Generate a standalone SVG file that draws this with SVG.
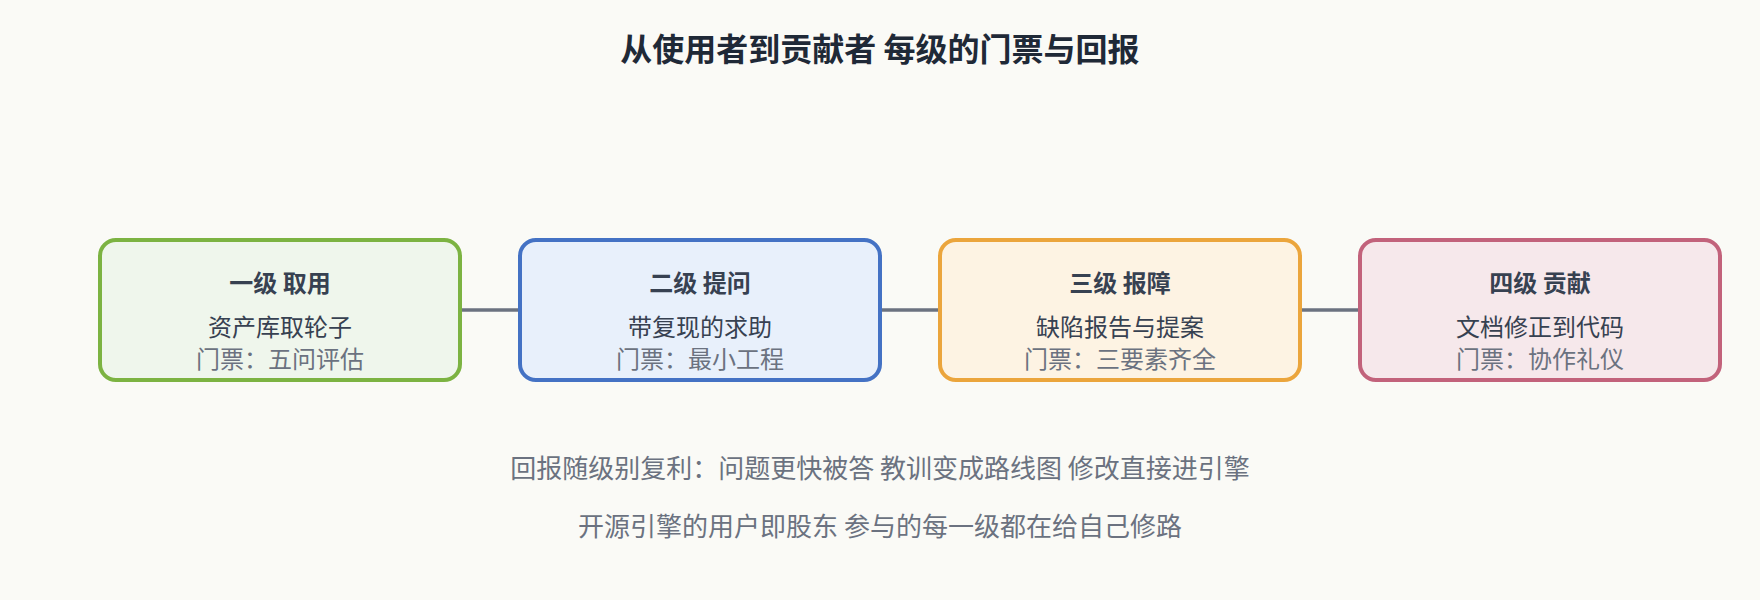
<svg xmlns="http://www.w3.org/2000/svg" width="1760" height="600" viewBox="0 0 1760 600">
<style>
text{font-family:"Noto Sans CJK SC","Noto Sans",sans-serif;text-anchor:middle}
.title{font-size:32px;font-weight:700;fill:#1f2937}
.nt{font-size:24px;font-weight:700;fill:#374151}
.nl{font-size:24px;fill:#374151}
.ng{font-size:24px;fill:#6b7280}
.ft{font-size:26px;fill:#6b7280}
.box{stroke-width:4}
.conn{stroke:#6b7280;stroke-width:3.5;fill:none}
</style>
<rect width="1760" height="600" fill="#fafaf6"/>
<text class="title" x="880" y="61">从使用者到贡献者 每级的门票与回报</text>
<g id="connectors">
<line class="conn" x1="462" y1="310" x2="518" y2="310"/>
<line class="conn" x1="882" y1="310" x2="938" y2="310"/>
<line class="conn" x1="1302" y1="310" x2="1358" y2="310"/>
</g>
<g id="node1">
<rect class="box" x="100" y="240" width="360" height="140" rx="16" fill="#eff6ec" stroke="#7cb342"/>
<text class="nt" x="280" y="292">一级 取用</text>
<text class="nl" x="280" y="336">资产库取轮子</text>
<text class="ng" x="280" y="368">门票：五问评估</text>
</g>
<g id="node2">
<rect class="box" x="520" y="240" width="360" height="140" rx="16" fill="#e8f0fb" stroke="#4472c4"/>
<text class="nt" x="700" y="292">二级 提问</text>
<text class="nl" x="700" y="336">带复现的求助</text>
<text class="ng" x="700" y="368">门票：最小工程</text>
</g>
<g id="node3">
<rect class="box" x="940" y="240" width="360" height="140" rx="16" fill="#fdf3e3" stroke="#eba53c"/>
<text class="nt" x="1120" y="292">三级 报障</text>
<text class="nl" x="1120" y="336">缺陷报告与提案</text>
<text class="ng" x="1120" y="368">门票：三要素齐全</text>
</g>
<g id="node4">
<rect class="box" x="1360" y="240" width="360" height="140" rx="16" fill="#f6e8eb" stroke="#c2627b"/>
<text class="nt" x="1540" y="292">四级 贡献</text>
<text class="nl" x="1540" y="336">文档修正到代码</text>
<text class="ng" x="1540" y="368">门票：协作礼仪</text>
</g>
<text class="ft" x="880" y="478">回报随级别复利：问题更快被答 教训变成路线图 修改直接进引擎</text>
<text class="ft" x="880" y="536">开源引擎的用户即股东 参与的每一级都在给自己修路</text>
</svg>
